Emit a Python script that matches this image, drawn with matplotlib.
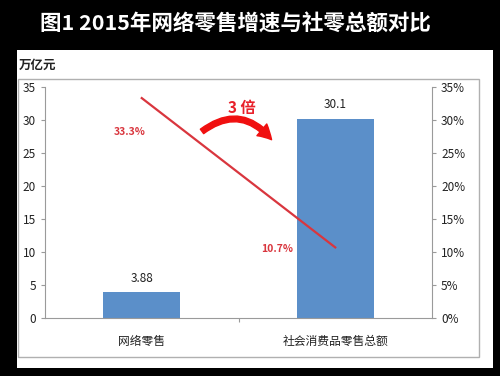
import matplotlib.pyplot as plt
from matplotlib.patches import Rectangle, FancyArrowPatch

plt.rcParams['font.family'] = ['Noto Sans CJK SC', 'DejaVu Sans']

# data
categories = ["网络零售", "社会消费品零售总额"]
amounts = [3.88, 30.1]           # 万亿元
growth = [33.3, 10.7]            # %
amount_labels = ["3.88", "30.1"]
growth_labels = ["33.3%", "10.7%"]

BLUE = "#5b8fc9"
RED = "#d9363e"
GRAY = "#9a9a9a"

fig = plt.figure(figsize=(5, 3.76), dpi=100, facecolor="black")

# white panel and inner frame
fig.patches.append(Rectangle((0.034, 0.021), 0.952, 0.846, transform=fig.transFigure,
                             facecolor="white", edgecolor="none", zorder=-2))
fig.patches.append(Rectangle((0.036, 0.051), 0.922, 0.739, transform=fig.transFigure,
                             facecolor="none", edgecolor="#b0b0b0", lw=1, zorder=-1))

fig.text(0.47, 0.935, "图1 2015年网络零售增速与社零总额对比", color="white",
         fontsize=15.5, fontweight="bold", ha="center", va="center")
fig.text(0.038, 0.826, "万亿元", fontsize=9, fontweight="bold", ha="left", va="center",
         color="#222222")

ax = fig.add_axes([0.09, 0.154, 0.774, 0.615])
ax.set_facecolor("none")
x = range(len(categories))
bars = ax.bar(x, amounts, width=0.4, color=BLUE, zorder=2)
for xi, v, lab in zip(x, amounts, amount_labels):
    ax.text(xi, v + 1.2, lab, ha="center", va="bottom", fontsize=8.5, color="#222222")

ax.set_xlim(-0.5, 1.5)
ax.set_ylim(0, 35)
ax.set_yticks(range(0, 36, 5))
ax.set_xticks([0.5])
ax.set_xticklabels([""])
for xi, c in zip(x, categories):
    ax.text(xi, -2.6, c, ha="center", va="top", fontsize=8.5, color="#222222")

for s in ["top", "right"]:
    ax.spines[s].set_visible(False)
for s in ["left", "bottom"]:
    ax.spines[s].set_color(GRAY)
ax.tick_params(axis="both", colors=GRAY, labelcolor="#222222", labelsize=8.5, length=3)

ax2 = ax.twinx()
ax2.plot(x, growth, color=RED, lw=1.6, zorder=3)
ax2.set_ylim(0, 35)
ax2.set_yticks(range(0, 36, 5))
ax2.set_yticklabels([f"{t}%" for t in range(0, 36, 5)])
for s in ["top", "left", "bottom"]:
    ax2.spines[s].set_visible(False)
ax2.spines["right"].set_color(GRAY)
ax2.tick_params(axis="y", colors=GRAY, labelcolor="#222222", labelsize=8.5, length=3)

ax2.text(-0.06, 28.1, growth_labels[0], color=RED, fontsize=7.5, fontweight="bold",
         ha="center", va="center")
ax2.text(0.7, 10.5, growth_labels[1], color=RED, fontsize=7.5, fontweight="bold",
         ha="center", va="center")

# "3倍" with curved arrow
ax2.text(0.51, 0.91, "3 倍", transform=ax2.transAxes, color="#e8202a", fontsize=11,
         fontweight="bold", ha="center", va="center")
arrow = FancyArrowPatch((0.40, 0.80), (0.59, 0.762), transform=ax2.transAxes,
                        connectionstyle="arc3,rad=-0.5",
                        arrowstyle="simple,head_width=11,head_length=10,tail_width=4",
                        color="#f01010", zorder=4)
ax2.add_patch(arrow)

fig.savefig("out.png", dpi=100, facecolor="black")
